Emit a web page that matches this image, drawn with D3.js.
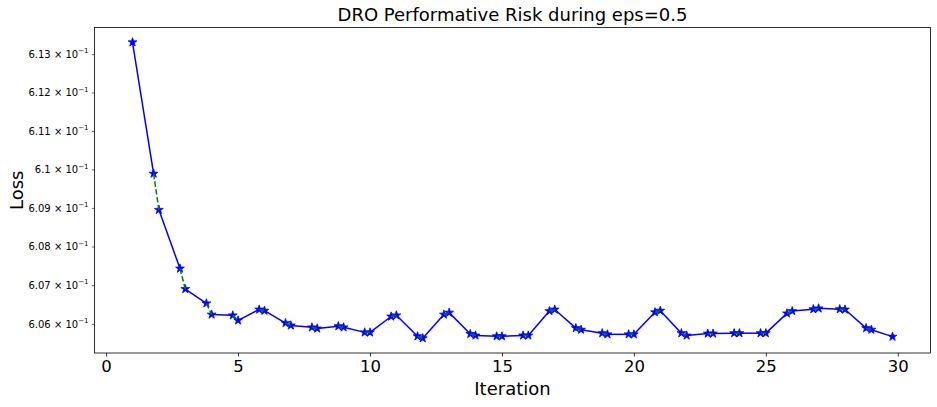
<!DOCTYPE html>
<html><head><meta charset="utf-8">
<script src="https://cdn.jsdelivr.net/npm/d3@7"></script>
<style>
html,body{margin:0;padding:0;background:#fff;}
svg{display:block;font-family:"DejaVu Sans",sans-serif;}
</style>
</head><body>
<svg id="c" width="937" height="407"></svg>
<script>
// Iterations and losses (start of each iteration at x=t, end at x=t+0.8)
const iterations = d3.range(1, 30);
const startLoss = [0.61331,0.60895,0.60690,0.60624,0.60609,0.60634,0.60596,0.60588,0.60591,0.60578,
  0.60622,0.60563,0.60629,0.60570,0.60568,0.60570,0.60637,0.60585,0.60573,0.60573,
  0.60634,0.60570,0.60575,0.60576,0.60576,0.60633,0.60640,0.60637,0.60585];
const endLoss = [0.60989,0.60743,0.60653,0.60622,0.60637,0.60602,0.60591,0.60594,0.60578,0.60619,
  0.60568,0.60624,0.60574,0.60568,0.60570,0.60633,0.60589,0.60576,0.60573,0.60630,
  0.60576,0.60575,0.60576,0.60576,0.60627,0.60638,0.60638,0.60589,0.60567];
const stepFrac = 0.8;
const xTicks = [0,5,10,15,20,25,30];
const yTicks = [0.606,0.607,0.608,0.609,0.610,0.611,0.612,0.613];

const svg = d3.select("#c");
const L = 94.5, R = 930.5, T = 27.5, B = 353;

const xMin = 1, xMax = 29 + stepFrac;
const xPad = (xMax - xMin) * 0.05;
const x = d3.scaleLinear().domain([xMin - xPad, xMax + xPad]).range([L, R]);

const all = startLoss.concat(endLoss);
const lmin = Math.log10(d3.min(all)), lmax = Math.log10(d3.max(all));
const lp = (lmax - lmin) * 0.05;
const y = d3.scaleLog().domain([Math.pow(10, lmin - lp), Math.pow(10, lmax + lp)]).range([B, T]);

// segments
const blueSegs = iterations.map((t, i) => [[t, startLoss[i]], [t + stepFrac, endLoss[i]]]);
const greenSegs = iterations.slice(0, -1).map((t, i) => [[t + stepFrac, endLoss[i]], [t + 1, startLoss[i + 1]]]);
const line = d3.line().x(d => x(d[0])).y(d => y(d[1]));

const g = svg.append("g");
g.selectAll("path.blue").data(blueSegs).enter().append("path")
  .attr("d", line).attr("fill", "none").attr("stroke", "#0000ff").attr("stroke-width", 1.5);
const pts = blueSegs.flat();
g.selectAll("path.star").data(pts).enter().append("path")
  .attr("d", d3.symbol().type(d3.symbolStar).size(24))
  .attr("transform", d => `translate(${x(d[0])},${y(d[1])})`)
  .attr("fill", "#0000ff").attr("stroke", "#0000ff").attr("stroke-width", 0.8);
g.selectAll("path.green").data(greenSegs).enter().append("path")
  .attr("d", line).attr("fill", "none").attr("stroke", "#008000").attr("stroke-width", 1.5)
  .attr("stroke-dasharray", "5.5,2.4");

// axes frame
svg.append("rect").attr("x", L).attr("y", T).attr("width", R - L).attr("height", B - T)
  .attr("fill", "none").attr("stroke", "#000").attr("stroke-width", 0.8);

// x axis
const xa = svg.append("g").attr("transform", `translate(0,${B})`)
  .call(d3.axisBottom(x).tickValues(xTicks).tickSize(3.5).tickPadding(3.5).tickFormat(d3.format("d")));
xa.select(".domain").remove();
xa.selectAll("line").attr("stroke", "#000").attr("stroke-width", 0.8);
xa.selectAll("text").attr("font-size", 16.5).attr("fill", "#000").attr("font-family", "DejaVu Sans");

// y axis
const ya = svg.append("g").attr("transform", `translate(${L},0)`)
  .call(d3.axisLeft(y).tickValues(yTicks).tickSize(2.5).tickPadding(3.5).tickFormat(() => ""));
ya.select(".domain").remove();
ya.selectAll("line").attr("stroke", "#000").attr("stroke-width", 0.6);
ya.selectAll(".tick text").each(function(d) {
  const t = d3.select(this).attr("font-size", 10).attr("fill", "#000").attr("font-family", "DejaVu Sans");
  const mant = +(d * 10).toFixed(2);
  t.text(null);
  t.append("tspan").text(mant + " \u00d7 10");
  t.append("tspan").attr("font-size", 7).attr("dy", -4.5).text("\u22121");
});

// labels
svg.append("text").attr("x", (L + R) / 2).attr("y", 395).attr("text-anchor", "middle")
  .attr("font-size", 18).attr("fill", "#000").text("Iteration");
svg.append("text").attr("transform", `translate(22.5,${(T + B) / 2}) rotate(-90)`).attr("text-anchor", "middle")
  .attr("font-size", 18).attr("fill", "#000").text("Loss");
svg.append("text").attr("x", (L + R) / 2).attr("y", 21).attr("text-anchor", "middle")
  .attr("font-size", 18).attr("fill", "#000").text("DRO Performative Risk during eps=0.5");
</script>
</body></html>
